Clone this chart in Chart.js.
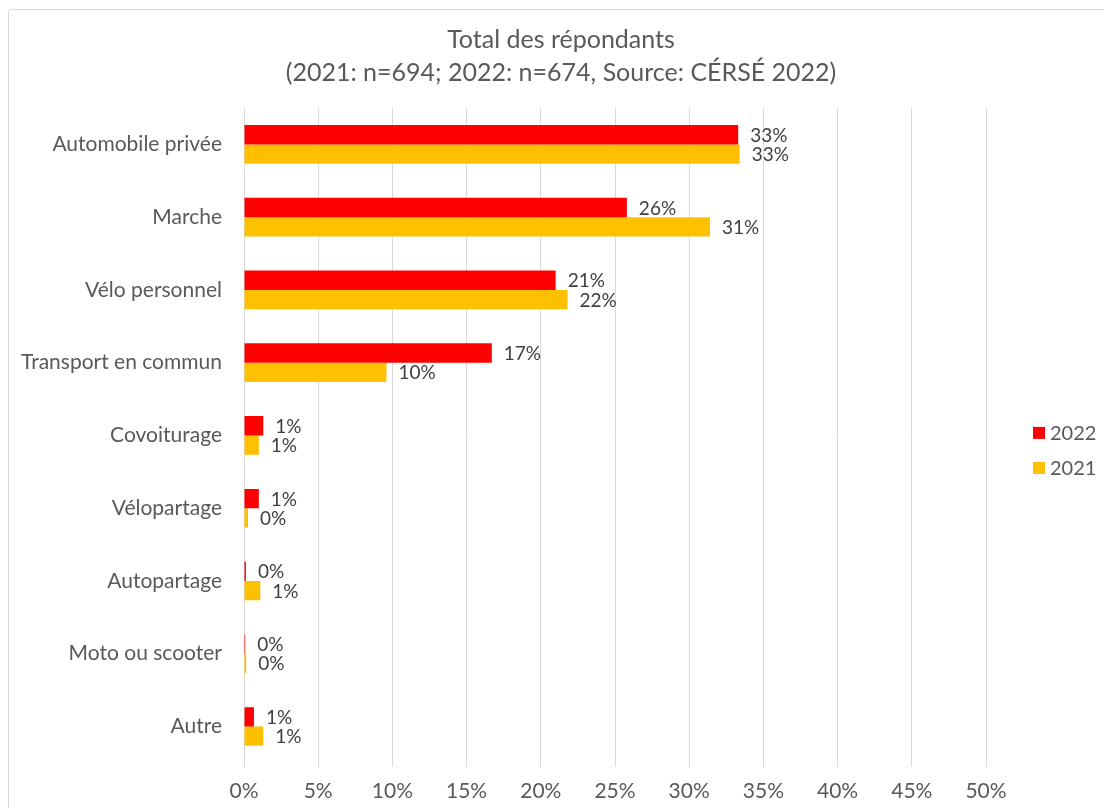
<!DOCTYPE html>
<html>
<head>
<meta charset="utf-8">
<script src="https://cdn.jsdelivr.net/npm/chart.js@4.4.0/dist/chart.umd.min.js"></script>
<style>
  html, body { margin: 0; padding: 0; background: #fff; overflow: hidden; }
  #frame { position: absolute; left: 8px; top: 9px; width: 1200px; height: 900px; border: 1px solid #d9d9d9; border-radius: 3px; }
  #wrap { position: absolute; left: 0; top: 0; width: 1122px; height: 822px; }
</style>
</head>
<body>
<div id="frame"></div>
<div id="wrap"><canvas id="chart"></canvas></div>
<script>
const FONT = 'Lato, "Liberation Sans", sans-serif';

// Données
const categories = [
    'Automobile privée',
    'Marche',
    'Vélo personnel',
    'Transport en commun',
    'Covoiturage',
    'Vélopartage',
    'Autopartage',
    'Moto ou scooter',
    'Autre'
];
const seriesLabels = ['2022', '2021'];
const values2022 = [33.3, 25.8, 21.0, 16.7, 1.3, 1.0, 0.13, 0.08, 0.67];
const values2021 = [33.4, 31.4, 21.8, 9.6, 1.0, 0.27, 1.1, 0.15, 1.3];
const seriesColors = ['#ff0000', '#ffc000'];
const titleLines = ['Total des répondants', '(2021: n=694; 2022: n=674, Source: CÉRSÉ 2022)'];

// Étiquettes de valeurs au bout des barres
const valueLabels = {
    id: 'valueLabels',
    afterDatasetsDraw(chart) {
        const ctx = chart.ctx;
        ctx.save();
        ctx.font = '19px ' + FONT;
        ctx.fillStyle = '#404040';
        ctx.textAlign = 'left';
        ctx.textBaseline = 'middle';
        chart.data.datasets.forEach((ds, i) => {
            chart.getDatasetMeta(i).data.forEach((bar, j) => {
                ctx.fillText(Math.round(ds.data[j]) + '%', bar.x + 12, bar.y + 1);
            });
        });
        ctx.restore();
    }
};

// Légende à droite
const sideLegend = {
    id: 'sideLegend',
    afterDraw(chart) {
        const ctx = chart.ctx;
        const x = chart.chartArea.right + 47;
        const yMid = (chart.chartArea.top + chart.chartArea.bottom) / 2 + 15;
        ctx.save();
        ctx.font = '20px ' + FONT;
        ctx.textBaseline = 'middle';
        chart.data.datasets.forEach((ds, i) => {
            const y = yMid + (i - 0.5) * 35;
            ctx.fillStyle = ds.backgroundColor;
            ctx.fillRect(x, y - 6, 12, 12);
            ctx.fillStyle = '#595959';
            ctx.fillText(ds.label, x + 17, y + 1);
        });
        ctx.restore();
    }
};

new Chart(document.getElementById('chart'), {
    type: 'bar',
    data: {
        labels: categories,
        datasets: [
            { label: seriesLabels[0], data: values2022, backgroundColor: seriesColors[0] },
            { label: seriesLabels[1], data: values2021, backgroundColor: seriesColors[1] }
        ]
    },
    options: {
        indexAxis: 'y',
        responsive: true,
        maintainAspectRatio: false,
        animation: false,
        barPercentage: 1,
        categoryPercentage: 0.53,
        layout: { padding: { left: 0, right: 0, top: 0, bottom: 6 } },
        plugins: {
            legend: { display: false },
            tooltip: { enabled: false },
            title: {
                display: true,
                text: titleLines,
                color: '#595959',
                font: { family: FONT, size: 25, weight: 'normal', lineHeight: 1.32 },
                padding: { top: 23, bottom: 19 }
            }
        },
        scales: {
            x: {
                min: 0,
                max: 50,
                ticks: {
                    stepSize: 5,
                    color: '#595959',
                    font: { family: FONT, size: 21 },
                    padding: 12,
                    callback: v => v + '%'
                },
                grid: { color: '#d9d9d9', tickLength: 4 },
                border: { display: false },
                // place à droite pour la légende
                afterFit: s => { s.paddingRight = 136; }
            },
            y: {
                ticks: {
                    color: '#595959',
                    font: { family: FONT, size: 21 },
                    padding: 22
                },
                grid: { display: false, drawTicks: false },
                border: { display: false },
                afterFit: s => { s.width = 244; }
            }
        }
    },
    plugins: [valueLabels, sideLegend]
});
</script>
</body>
</html>
